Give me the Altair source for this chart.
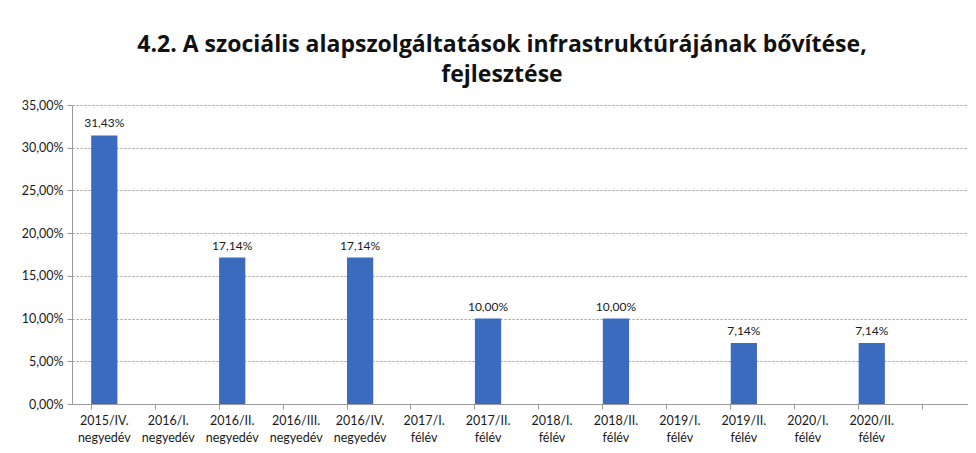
import altair as alt
import pandas as pd

categories = [
    "2015/IV.|negyedév", "2016/I.|negyedév", "2016/II.|negyedév", "2016/III.|negyedév",
    "2016/IV.|negyedév", "2017/I.|félév", "2017/II.|félév", "2018/I.|félév",
    "2018/II.|félév", "2019/I.|félév", "2019/II.|félév", "2020/I.|félév",
    "2020/II.|félév", " ",
]
values = [0.3143, None, 0.1714, None, 0.1714, None, 0.10, None, 0.10, None, 0.0714, None, 0.0714, None]
labels = ["31,43%", "", "17,14%", "", "17,14%", "", "10,00%", "", "10,00%", "", "7,14%", "", "7,14%", ""]

df = pd.DataFrame({"cat": categories, "val": values, "lab": labels})

FONT = "Lato"
xscale = alt.Scale(paddingInner=0.59, paddingOuter=0.3)
xenc_labels = alt.X(
    "cat:N", sort=categories, scale=xscale, title=None,
    axis=alt.Axis(
        orient="bottom",
        labelExpr="split(datum.label, '|')", labelAngle=0, ticks=False, domain=False,
        labelFont=FONT, labelFontSize=12.5, labelColor="#1a1a1a", labelPadding=10,
        labelLineHeight=17, grid=False,
    ),
)
yenc = alt.Y(
    "val:Q", scale=alt.Scale(domain=[0, 0.35]), title=None,
    axis=alt.Axis(
        values=[0, 0.05, 0.10, 0.15, 0.20, 0.25, 0.30, 0.35],
        labelExpr="replace(format(datum.value, '.2%'), '.', ',')",
        labelFont=FONT, labelFontSize=12.5, labelColor="#1a1a1a", labelPadding=4,
        grid=True, gridColor="#9a9a9a", gridDash=[2, 2], gridWidth=1,
        domainColor="#9a9a9a", tickColor="#9a9a9a", tickSize=5,
    ),
)

bars = alt.Chart(df).mark_bar(color="#3A6BBE").encode(x=xenc_labels, y=yenc)

text = alt.Chart(df).transform_filter("datum.lab != ''").mark_text(
    dy=-12, font=FONT, fontSize=12, color="#1a1a1a"
).encode(
    x=alt.X("cat:N", sort=categories, scale=xscale, axis=None),
    y=alt.Y("val:Q"),
    text="lab:N",
)

ticks_layer = alt.Chart(df).mark_bar(opacity=0).encode(
    x=alt.X(
        "cat:N", sort=categories, scale=xscale, title=None,
        axis=alt.Axis(
            orient="bottom", labels=False, bandPosition=0, ticks=True, tickSize=5,
            tickColor="#9a9a9a", domainColor="#9a9a9a", grid=False,
        ),
    ),
    y=alt.Y("val:Q"),
)

chart = alt.layer(ticks_layer, bars, text).resolve_axis(x="independent").properties(
    width=896,
    height=299,
    title=alt.TitleParams(
        text=["4.2. A szociális alapszolgáltatások infrastruktúrájának bővítése,", "fejlesztése"],
        font="Open Sans", fontSize=23, fontWeight="bold", color="#111", anchor="middle",
        offset=12, dx=-18, lineHeight=30,
    ),
    autosize=alt.AutoSizeParams(type="none"),
    padding={"left": 64, "top": 97, "right": 0, "bottom": 41},
).configure_view(stroke=None)

chart.save("out.html", embed_options={"renderer": "svg", "actions": False})
